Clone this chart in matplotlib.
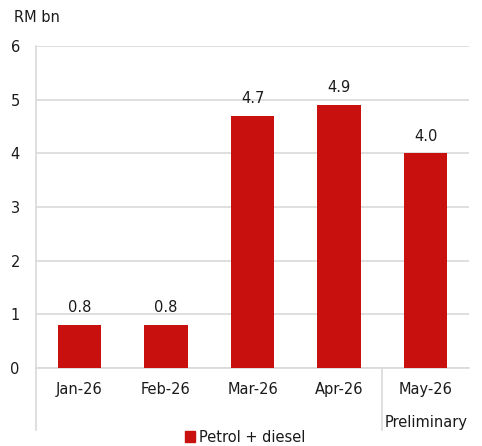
import matplotlib
matplotlib.use("Agg")
import matplotlib.pyplot as plt
from matplotlib.patches import Patch

categories = ["Jan-26", "Feb-26", "Mar-26", "Apr-26", "May-26"]
values = [0.8, 0.8, 4.7, 4.9, 4.0]
value_labels = ["0.8", "0.8", "4.7", "4.9", "4.0"]
yticks = [0, 1, 2, 3, 4, 5, 6]
series_name = "Petrol + diesel"
unit_label = "RM bn"
note_label = "Preliminary"

bar_color = "#C8100F"
grid_color = "#D9D9D9"
text_color = "#1A1A1A"
fs = 10.5

plt.rcParams["font.family"] = ["DejaVu Sans"]

fig = plt.figure(figsize=(4.82, 4.46), dpi=100)
ax = fig.add_axes([36 / 482, 1 - 368 / 446, (469 - 36) / 482, (368 - 46) / 446])

x = list(range(len(categories)))
ax.bar(x, values, width=0.5, color=bar_color, zorder=3)

for xi, v, lab in zip(x, values, value_labels):
    ax.annotate(lab, (xi, v), xytext=(0, 7), textcoords="offset points",
                ha="center", va="bottom", fontsize=fs, color=text_color)

ax.set_xlim(-0.5, len(categories) - 0.5)
ax.set_ylim(0, 6)
ax.set_yticks(yticks)
ax.set_yticklabels([str(t) for t in yticks], fontsize=fs, color=text_color,
                   ha="center")
ax.set_xticks(x)
ax.set_xticklabels(categories, fontsize=fs, color=text_color)
ax.tick_params(axis="both", length=0)
ax.tick_params(axis="y", pad=15)
ax.tick_params(axis="x", pad=10)

ax.yaxis.grid(True, color=grid_color, linewidth=1.2, zorder=0)
for side in ["top", "right"]:
    ax.spines[side].set_visible(False)
ax.spines["bottom"].set_color(grid_color)
ax.spines["bottom"].set_linewidth(1.2)
ax.spines["left"].set_color(grid_color)
ax.spines["left"].set_linewidth(1.2)

# category group separators below the axis
trans = ax.get_xaxis_transform()
below = -62 / 322
ax.plot([-0.5, -0.5], [0, below], transform=trans, color=grid_color,
        linewidth=1.2, clip_on=False)
ax.plot([3.5, 3.5], [0, below], transform=trans, color=grid_color,
        linewidth=1.2, clip_on=False)
ax.text(4, -54 / 322, note_label, transform=trans, ha="center", va="center",
        fontsize=fs, color=text_color)

fig.text(14 / 482, 1 - 18 / 446, unit_label, ha="left", va="center",
         fontsize=fs, color=text_color)

fig.legend(handles=[Patch(color=bar_color, label=series_name)],
           loc="center", bbox_to_anchor=(245 / 482, 1 - 437 / 446),
           frameon=False, fontsize=fs, handlelength=0.7, handleheight=0.7,
           handletextpad=0.3, labelcolor=text_color)

fig.savefig("out.png", dpi=100)
